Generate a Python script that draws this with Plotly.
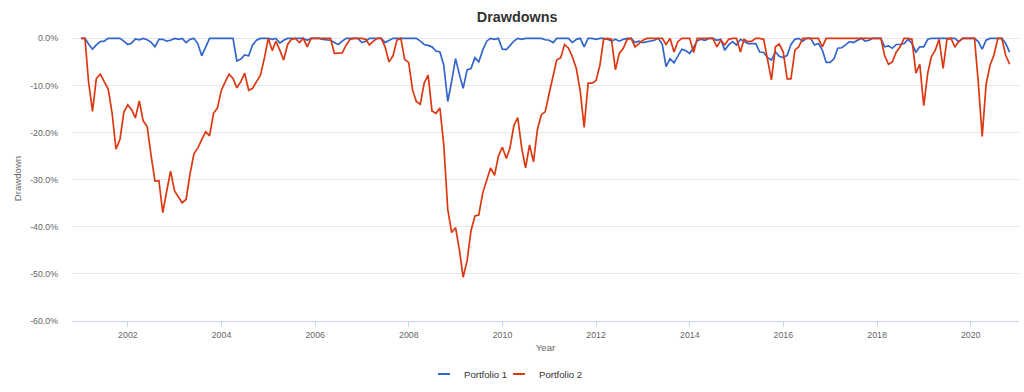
import pandas as pd
import plotly.graph_objects as go

# ---- data (monthly drawdowns, %, month-ends from Dec 2000 to Oct 2020) ----
START_MONTH = "2000-12-31"
SERIES_NAMES = ["Portfolio 1", "Portfolio 2"]
SERIES_COLORS = ["#3366cc", "#dc3912"]
Y_TICKS = [-60, -50, -40, -30, -20, -10, 0]
Y_TICK_LABELS = ["-60.0%", "-50.0%", "-40.0%", "-30.0%", "-20.0%", "-10.0%", "0.0%"]

portfolio1 = [
    0, 0, -1.2, -2.3, -1.4, -0.7, -0.6, 0, 0, 0, 0, -0.6,
    -1.3, -1.0, -0.1, -0.3, 0, -0.3, -0.8, -1.8, -0.2, -0.2, -0.6, -0.4,
    0, -0.2, 0, -0.9, -0.2, 0, -1.1, -3.7, -1.8, 0, 0, 0,
    0, 0, 0, 0, -4.8, -4.4, -3.5, -3.7, -1.4, -0.4, 0, 0,
    0, -0.2, 0, -1.0, -0.4, 0, 0, 0, 0, 0, -0.4, 0,
    0, 0, -0.2, -0.3, -0.4, -0.9, -1.3, -0.6, 0, 0, 0, 0,
    -0.9, -0.6, 0, 0, 0, 0, -0.9, -0.4, 0, 0, 0, 0,
    0, 0, 0, -0.6, -1.3, -1.5, -1.8, -2.7, -2.9, -5.7, -13.4, -9.2,
    -4.3, -7.8, -10.6, -6.7, -6.4, -4.1, -5.0, -2.5, -0.6, 0, -0.2, 0,
    -2.3, -2.4, -1.6, -0.6, 0, -0.2, 0, 0, 0, 0, 0, -0.3,
    -0.4, -0.9, 0, 0, 0, 0, -0.9, -0.2, 0, -1.8, 0, 0,
    -0.2, 0, 0, -0.2, -0.6, -0.2, -0.6, -0.2, 0, 0, -0.9, -0.6,
    -0.9, -0.7, -0.6, -0.4, 0, -1.2, -6.0, -4.3, -5.2, -3.9, -2.3, -2.6,
    -3.2, -1.9, -0.5, -0.2, -0.4, 0, 0, -0.4, -0.2, -2.5, -1.4, -0.7,
    -1.4, -0.2, -0.6, -1.1, -1.1, -1.1, -2.9, -3.0, -4.1, -4.6, -2.9, -3.8,
    -4.1, -3.6, -1.3, -0.2, 0, -0.6, 0, 0, -1.4, -1.1, -2.5, -5.1,
    -5.1, -4.3, -2.1, -2.0, -1.4, -0.7, -0.9, -0.4, 0, -0.6, -0.4, 0,
    0, 0, -1.8, -1.6, -2.1, -1.3, -1.3, -1.1, -0.2, -1.1, -2.9, -1.8,
    -1.8, -0.2, 0, 0, 0, 0, 0, 0, 0, -0.7, 0, 0,
    0, 0, -0.7, -2.3, -0.4, 0, 0, 0, 0, -1.1, -2.9,
]

portfolio2 = [
    0, 0, -9.2, -15.5, -8.5, -7.6, -9.2, -10.7, -15.9, -23.5, -21.5, -15.7,
    -14.1, -15.2, -16.9, -13.3, -17.5, -18.7, -24.7, -30.3, -30.2, -37.0, -32.4, -28.2,
    -32.4, -33.8, -34.9, -34.2, -28.9, -24.5, -23.3, -21.5, -19.8, -20.7, -15.9, -14.8,
    -11.0, -9.2, -7.6, -8.5, -10.5, -9.2, -7.4, -11.0, -10.6, -9.2, -7.8, -4.3,
    0, -2.6, -0.6, -2.5, -4.6, -1.3, -0.2, 0, -0.9, 0, -1.8, 0,
    0, 0, 0, 0, 0, -3.2, -3.2, -3.1, -1.4, -0.2, 0, 0,
    0, -0.2, -1.4, -0.6, 0, 0, -1.8, -5.0, -3.7, -0.4, 0, -4.5,
    -5.1, -11.0, -13.4, -14.0, -9.5, -7.8, -15.4, -15.9, -14.8, -22.6, -36.3, -41.2,
    -40.2, -45.1, -50.7, -47.2, -40.9, -37.7, -37.5, -32.8, -30.3, -27.5, -29.1, -25.0,
    -23.1, -25.5, -23.3, -18.5, -16.8, -23.3, -27.5, -22.6, -26.2, -19.4, -16.2, -15.6,
    -11.7, -8.1, -4.6, -4.1, -1.3, -2.1, -3.9, -6.4, -11.3, -18.9, -9.5, -9.5,
    -9.0, -5.7, -0.2, 0, -0.2, -6.7, -3.2, -2.1, -0.2, 0, -1.8, -1.1,
    -0.4, 0, 0, 0, 0, 0, -1.3, 0, -2.9, -0.7, 0, 0,
    0, -3.0, 0, 0, 0, 0, 0, -1.8, -0.4, -1.4, -0.2, 0,
    0, -2.9, -0.2, -0.7, -0.6, 0, 0, -0.2, -4.3, -8.8, -1.8, -1.2,
    -2.9, -8.6, -8.6, -2.5, -1.8, 0, 0, 0, 0, 0, -1.8, 0,
    0, 0, 0, 0, 0, 0, 0, 0, 0, 0, 0, 0,
    0, 0, -3.6, -5.5, -5.0, -2.9, -1.8, 0, 0, -0.2, -7.4, -5.5,
    -14.3, -7.4, -3.9, -2.5, -0.2, -6.4, -0.2, 0, -1.8, -0.7, 0, 0,
    0, 0, -9.2, -20.8, -9.9, -5.7, -3.6, 0, 0, -3.6, -5.5,
]

dates = pd.date_range(START_MONTH, periods=len(portfolio1), freq="ME")

FONT = "Liberation Sans, Arial, Helvetica, sans-serif"

fig = go.Figure()
for name, color, vals in zip(SERIES_NAMES, SERIES_COLORS, [portfolio1, portfolio2]):
    fig.add_trace(go.Scatter(
        x=dates, y=vals, name=name, mode="lines",
        line=dict(color=color, width=1.7), showlegend=False,
    ))
# legend entries with a short line glyph (first entry given a compact slot width)
for i, (name, color) in enumerate(zip(SERIES_NAMES, SERIES_COLORS)):
    fig.add_trace(go.Scatter(
        x=[None], y=[None], name=name, mode="markers",
        marker=dict(symbol="line-ew", size=8.5, color=color,
                    line=dict(width=2, color=color)),
        showlegend=True, hoverinfo="skip",
        legendwidth=30 if i == 0 else None,
    ))

fig.update_layout(
    width=1024, height=392,
    margin=dict(l=72, r=5, t=36, b=70),
    paper_bgcolor="white", plot_bgcolor="white",
    font=dict(family=FONT, color="#666666"),
    title=dict(text="<b>Drawdowns</b>", xref="container", x=0.505, xanchor="center",
               yref="container", y=0.957, yanchor="middle",
               font=dict(size=14.4, color="#333333", family=FONT)),
    showlegend=True,
    legend=dict(orientation="h", x=0.3717, xanchor="left", y=-0.182, yanchor="middle",
                font=dict(size=9.6, color="#333333", family=FONT),
                bgcolor="rgba(0,0,0,0)", itemsizing="trace"),
)

fig.update_xaxes(
    type="date", range=["2000-10-22", "2021-01-12"],
    tick0="2002-01-01", dtick="M24", tickformat="%Y",
    showgrid=False, zeroline=False,
    showline=True, linecolor="#ccd6eb", linewidth=1,
    ticks="outside", ticklen=5, tickcolor="#ccd6eb",
    tickfont=dict(size=8.8, color="#666666"),
    title=dict(text="Year", font=dict(size=9.6, color="#666666"), standoff=5),
)

fig.update_yaxes(
    range=[-60, 0.5], tickvals=Y_TICKS, ticktext=Y_TICK_LABELS,
    showgrid=True, gridcolor="#e6e6e6", gridwidth=1, zeroline=False,
    showline=False, ticks="", ticklabelstandoff=13, automargin=False,
    tickfont=dict(size=8.8, color="#666666"),
    title=dict(text="Drawdown", font=dict(size=9.6, color="#666666"), standoff=6),
)

fig.write_html("out.html", config={"displayModeBar": False},
               post_script="document.body.style.margin='0px';")
